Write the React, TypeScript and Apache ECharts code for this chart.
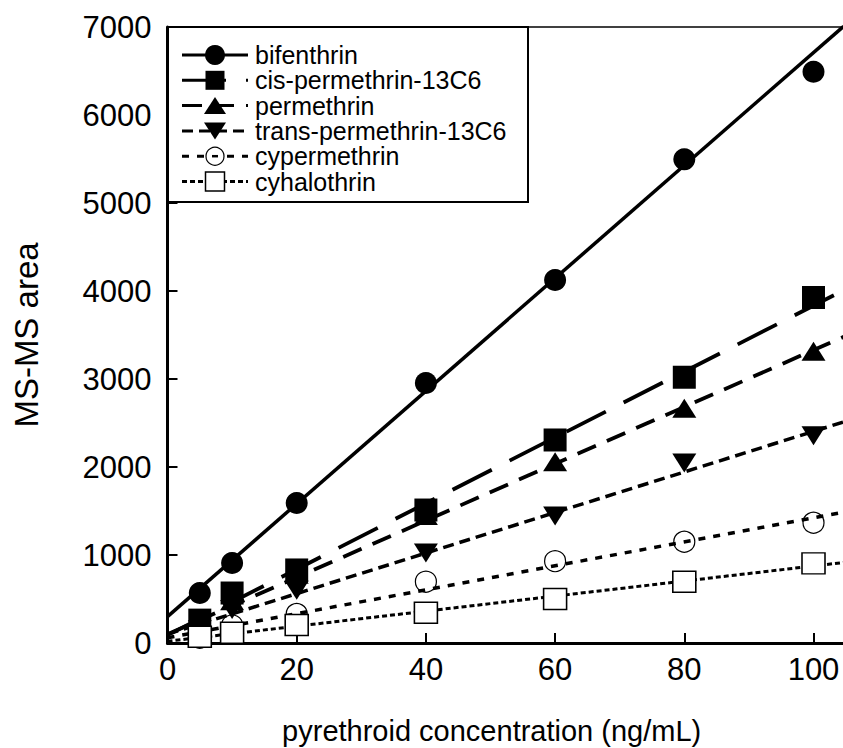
import React, { useEffect, useRef } from "react";
import * as echarts from "echarts";

// ---- data ----
const concentrations = [5, 10, 20, 40, 60, 80, 100];
const seriesNames = [
  "bifenthrin",
  "cis-permethrin-13C6",
  "permethrin",
  "trans-permethrin-13C6",
  "cypermethrin",
  "cyhalothrin",
];
const bifenthrin = [568, 909, 1590, 2955, 4125, 5496, 6492];
const cisPermethrin13C6 = [260, 568, 830, 1511, 2307, 3020, 3926];
const permethrin = [150, 480, 780, 1450, 2060, 2668, 3315];
const transPermethrin13C6 = [150, 380, 600, 1023, 1443, 2045, 2355];
const cypermethrin = [60, 200, 330, 697, 930, 1151, 1367];
const cyhalothrin = [72, 117, 205, 344, 500, 697, 905];

// fitted calibration lines: value at x = fitX[0] and x = fitX[1]
const fitX = [0, 105];
const fitBifenthrin = [300, 7030];
const fitCisPermethrin13C6 = [90, 4020];
const fitPermethrin = [100, 3490];
const fitTransPermethrin13C6 = [100, 2520];
const fitCypermethrin = [60, 1490];
const fitCyhalothrin = [20, 918];

const xTickLabels = [0, 20, 40, 60, 80, 100];
const yMin = 0;
const yMax = 7000;
const yStep = 1000;
const xMin = 0;
const xMax = 105;
const xStep = 20;

const FONT = '"Liberation Sans", Arial, Helvetica, sans-serif';

type Style = {
  symbol: string;
  size: number | number[];
  rotate?: number;
  fill: string;
  border: string;
  borderWidth: number;
  dash: number[] | "solid";
  width: number;
};

const styles: Style[] = [
  { symbol: "circle", size: 22, fill: "#000", border: "#000", borderWidth: 0, dash: "solid", width: 3.5 },
  { symbol: "rect", size: 23, fill: "#000", border: "#000", borderWidth: 0, dash: [44, 20], width: 3.8 },
  { symbol: "triangle", size: [24, 19], fill: "#000", border: "#000", borderWidth: 0, dash: [20, 12], width: 3.8 },
  { symbol: "triangle", size: [24, 19], rotate: 180, fill: "#000", border: "#000", borderWidth: 0, dash: [11, 6], width: 3.5 },
  { symbol: "circle", size: 21, fill: "rgba(255,255,255,0)", border: "#000", borderWidth: 1.2, dash: [7, 8], width: 3.5 },
  { symbol: "rect", size: [23, 21], fill: "#fff", border: "#000", borderWidth: 1.5, dash: [5, 3], width: 3 },
];

const pointSets = [bifenthrin, cisPermethrin13C6, permethrin, transPermethrin13C6, cypermethrin, cyhalothrin];
const fitSets = [fitBifenthrin, fitCisPermethrin13C6, fitPermethrin, fitTransPermethrin13C6, fitCypermethrin, fitCyhalothrin];

function legendGraphics() {
  const left = 168;
  const top = 27;
  const boxW = 360;
  const boxH = 175;
  const rowY0 = 55;
  const rowGap = 25.3;
  const lineX0 = 182;
  const lineX1 = 248;
  const markX = 215;
  const textX = 255;
  const els: any[] = [
    {
      type: "rect",
      shape: { x: left, y: top, width: boxW, height: boxH },
      style: { fill: "#fff", stroke: "#000", lineWidth: 2 },
      z: 100,
    },
  ];
  const legendSizes = [20, 19, [22, 17], [22, 17], 18, 19];
  seriesNames.forEach((name, i) => {
    const st = styles[i];
    const y = rowY0 + rowGap * i;
    els.push({
      type: "line",
      shape: { x1: lineX0, y1: y, x2: lineX1, y2: y },
      style: {
        stroke: "#000",
        lineWidth: 3,
        lineDash: st.dash === "solid" ? null : st.dash,
      },
      z: 101,
    });
    const sz = legendSizes[i] as any;
    const w = Array.isArray(sz) ? sz[0] : sz;
    const h = Array.isArray(sz) ? sz[1] : sz;
    const mstyle = { fill: st.fill === "rgba(255,255,255,0)" ? "#fff" : st.fill, stroke: "#000", lineWidth: st.borderWidth || 0 };
    if (st.symbol === "circle") {
      els.push({ type: "circle", shape: { cx: markX, cy: y, r: w / 2 }, style: mstyle, z: 102 });
    } else if (st.symbol === "rect") {
      els.push({ type: "rect", shape: { x: markX - w / 2, y: y - h / 2, width: w, height: h }, style: mstyle, z: 102 });
    } else if (st.rotate === 180) {
      els.push({
        type: "polygon",
        shape: { points: [[markX - w / 2, y - h / 2], [markX + w / 2, y - h / 2], [markX, y + h / 2]] },
        style: mstyle,
        z: 102,
      });
    } else {
      els.push({
        type: "polygon",
        shape: { points: [[markX, y - h / 2], [markX + w / 2, y + h / 2], [markX - w / 2, y + h / 2]] },
        style: mstyle,
        z: 102,
      });
    }
    if (i === 4) {
      // the dashed line shows through the open circle in the reference
      els.push({
        type: "line",
        shape: { x1: markX - 3, y1: y, x2: markX + 3, y2: y },
        style: { stroke: "#000", lineWidth: 2.5 },
        z: 103,
      });
    }
    els.push({
      type: "text",
      x: textX,
      y: y,
      style: {
        text: name,
        fill: "#000",
        font: `25px ${FONT}`,
        textVerticalAlign: "middle",
        textAlign: "left",
      },
      z: 103,
    });
  });
  return els;
}

export default function App() {
  const ref = useRef<HTMLDivElement>(null);
  useEffect(() => {
    if (!ref.current) return;
    const chart = echarts.init(ref.current, undefined, { renderer: "svg" });

    const lineSeries = seriesNames.map((name, i) => ({
      name: name + " fit",
      type: "line",
      data: fitX.map((x, k) => [x, fitSets[i][k]]),
      symbol: "none",
      clip: true,
      lineStyle: {
        color: "#000",
        width: styles[i].width,
        type: styles[i].dash,
      },
      z: 2,
      silent: true,
    }));

    const scatterSeries = seriesNames.map((name, i) => ({
      name,
      type: "scatter",
      data: concentrations.map((x, k) => [x, pointSets[i][k]]),
      symbol: styles[i].symbol,
      symbolSize: styles[i].size,
      symbolRotate: styles[i].rotate || 0,
      itemStyle: {
        color: styles[i].fill,
        borderColor: styles[i].border,
        borderWidth: styles[i].borderWidth,
        opacity: 1,
      },
      z: 3 + i,
      silent: true,
    }));

    chart.setOption({
      animation: false,
      backgroundColor: "#fff",
      grid: {
        left: 167.5,
        top: 27,
        width: 678.3,
        height: 616,
        show: false,
        containLabel: false,
        outerBoundsMode: "none",
      },
      xAxis: [
        {
          type: "value",
          min: xMin,
          max: xMax,
          interval: xStep,
          name: "pyrethroid concentration (ng/mL)",
          nameLocation: "middle",
          nameGap: 73,
          nameTextStyle: { fontFamily: FONT, fontSize: 29, color: "#000", padding: [0, 30, 0, 0] },
          axisLine: { show: true, lineStyle: { color: "#000", width: 3 } },
          axisTick: { show: true, inside: true, length: 10, lineStyle: { color: "#000", width: 2 } },
          axisLabel: {
            margin: 11,
            fontFamily: FONT,
            fontSize: 31,
            color: "#000",
            formatter: (v: number) => (xTickLabels.includes(v) ? String(v) : ""),
          },
          splitLine: { show: false },
        },
        {
          type: "value",
          position: "top",
          min: xMin,
          max: xMax,
          axisLine: { show: true, lineStyle: { color: "#000", width: 1.5 } },
          axisTick: { show: false },
          axisLabel: { show: false },
          splitLine: { show: false },
        },
      ],
      yAxis: {
        type: "value",
        min: yMin,
        max: yMax,
        interval: yStep,
        name: "MS-MS area",
        nameLocation: "middle",
        nameRotate: 90,
        nameGap: 125,
        nameTextStyle: { fontFamily: FONT, fontSize: 33, color: "#000" },
        axisLine: { show: true, lineStyle: { color: "#000", width: 3 } },
        axisTick: { show: true, inside: true, length: 10, lineStyle: { color: "#000", width: 2 } },
        axisLabel: {
          margin: 16,
          fontFamily: FONT,
          fontSize: 31,
          color: "#000",
          formatter: (v: number) => String(v),
        },
        splitLine: { show: false },
      },
      series: [...lineSeries, ...scatterSeries],
      graphic: legendGraphics(),
    });
    return () => chart.dispose();
  }, []);
  return (
    <div
      ref={ref}
      style={{ position: "absolute", left: 0, top: 0, width: 843, height: 748, background: "#fff" }}
    />
  );
}
